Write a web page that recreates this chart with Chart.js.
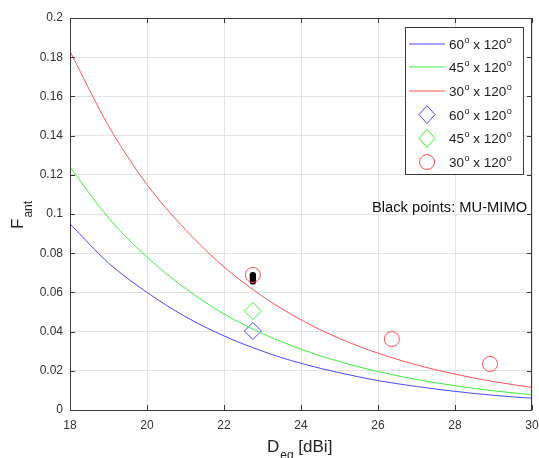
<!DOCTYPE html>
<html>
<head>
<meta charset="utf-8">
<script src="https://cdn.jsdelivr.net/npm/chart.js@4"></script>
<style>
  html, body { margin: 0; padding: 0; background: #fff; }
  #wrap { width: 539px; height: 458px; position: relative; }
</style>
</head>
<body>
<div id="wrap"><canvas id="c" width="539" height="458"></canvas></div>
<script>
// ---- data ----
const deq = [18, 19, 20, 21, 22, 23, 24, 25, 26, 27, 28, 29, 30];
const f60 = [0.095, 0.075, 0.060, 0.0476, 0.0378, 0.030, 0.0238, 0.019, 0.015, 0.012, 0.0095, 0.0075, 0.006];
const f45 = [0.124, 0.098, 0.078, 0.062, 0.049, 0.039, 0.031, 0.0247, 0.0196, 0.0156, 0.0124, 0.0098, 0.0078];
const f30 = [0.183, 0.145, 0.115, 0.092, 0.073, 0.058, 0.046, 0.0365, 0.029, 0.023, 0.0183, 0.0145, 0.0115];

const m60x = [22.75], m60y = [0.0403];
const m45x = [22.75], m45y = [0.0505];
const m30x = [22.75, 26.36, 28.91], m30y = [0.0689, 0.0362, 0.0235];
const muX = [22.75, 22.75, 22.75], muY = [0.0688, 0.0672, 0.0656];

const xTicks = ['18', '20', '22', '24', '26', '28', '30'];
const yTicks = ['0', '0.02', '0.04', '0.06', '0.08', '0.1', '0.12', '0.14', '0.16', '0.18', '0.2'];
const legendLabels = [['60', '120'], ['45', '120'], ['30', '120'], ['60', '120'], ['45', '120'], ['30', '120']];

const BLUE = '#4a4aff', GREEN = '#3cee3c', RED = '#ff5050';
const FONT = '"Liberation Sans", Arial, Helvetica, sans-serif';
const AXIS = '#3a3a3a';

const pts = (xs, ys) => xs.map((x, i) => ({ x: x, y: ys[i] }));

const lineDs = (label, ys, color) => ({
  type: 'line', label, data: pts(deq, ys), borderColor: color, borderWidth: 1,
  pointRadius: 0, fill: false, tension: 0.4, cubicInterpolationMode: 'monotone'
});
const markDs = (label, xs, ys, color, style, r) => ({
  type: 'scatter', label, data: pts(xs, ys), borderColor: color, backgroundColor: 'rgba(0,0,0,0)',
  pointStyle: style, pointRadius: r, pointHoverRadius: r, borderWidth: 1, showLine: false
});

function drawMarker(ctx, style, x, y, color) {
  ctx.save();
  ctx.strokeStyle = color; ctx.lineWidth = 1;
  ctx.beginPath();
  if (style === 'diamond') {
    ctx.moveTo(x, y - 9); ctx.lineTo(x + 8, y); ctx.lineTo(x, y + 9); ctx.lineTo(x - 8, y); ctx.closePath();
  } else {
    ctx.arc(x, y, 7.5, 0, Math.PI * 2);
  }
  ctx.stroke();
  ctx.restore();
}

function drawDegText(ctx, x, y, a, b) {
  ctx.textBaseline = 'alphabetic'; ctx.textAlign = 'left';
  ctx.fillStyle = '#222';
  ctx.font = '13.5px ' + FONT;
  ctx.fillText(a, x, y); x += ctx.measureText(a).width;
  ctx.font = '9px ' + FONT;
  ctx.fillText('o', x + 0.5, y - 6); x += ctx.measureText('o').width + 0.5;
  ctx.font = '13.5px ' + FONT;
  const mid = ' x ' + b;
  ctx.fillText(mid, x, y); x += ctx.measureText(mid).width;
  ctx.font = '9px ' + FONT;
  ctx.fillText('o', x + 0.5, y - 6);
}

const decor = {
  id: 'decor',
  afterDraw(chart) {
    const ctx = chart.ctx, a = chart.chartArea;
    const xs = chart.scales.x, ys = chart.scales.y;
    ctx.save();
    // frame
    ctx.strokeStyle = AXIS; ctx.lineWidth = 1;
    ctx.beginPath();
    ctx.moveTo(Math.round(a.left) + 0.5, Math.round(a.top) + 0.5);
    ctx.lineTo(Math.round(a.right) - 0.5, Math.round(a.top) + 0.5);
    ctx.lineTo(Math.round(a.right) - 0.5, Math.round(a.bottom) + 0.5);
    ctx.lineTo(Math.round(a.left) + 0.5, Math.round(a.bottom) + 0.5);
    ctx.closePath();
    ctx.stroke();
    // inward ticks
    ctx.beginPath();
    xs.ticks.forEach(t => {
      const px = Math.round(xs.getPixelForValue(t.value)) + 0.5;
      ctx.moveTo(px, a.bottom); ctx.lineTo(px, a.bottom - 5);
      ctx.moveTo(px, a.top); ctx.lineTo(px, a.top + 5);
    });
    ys.ticks.forEach(t => {
      const py = Math.round(ys.getPixelForValue(t.value)) + 0.5;
      ctx.moveTo(a.left, py); ctx.lineTo(a.left + 5, py);
      ctx.moveTo(a.right, py); ctx.lineTo(a.right - 5, py);
    });
    ctx.stroke();

    // annotation
    ctx.fillStyle = '#111';
    ctx.font = '14.7px ' + FONT;
    ctx.textAlign = 'left'; ctx.textBaseline = 'alphabetic';
    ctx.fillText('Black points: MU-MIMO', 372, 212);

    // x axis title
    ctx.fillStyle = '#222';
    ctx.font = '17px ' + FONT;
    let x = 267;
    ctx.fillText('D', x, 452); x += ctx.measureText('D').width;
    ctx.font = '12px ' + FONT;
    ctx.fillText('eq', x + 1, 459); x += ctx.measureText('eq').width + 1;
    ctx.font = '17px ' + FONT;
    ctx.fillText(' [dBi]', x, 452);

    // y axis title
    ctx.save();
    ctx.translate(23, 229);
    ctx.rotate(-Math.PI / 2);
    ctx.font = '17px ' + FONT;
    ctx.fillText('F', 0, 0);
    let w = ctx.measureText('F').width;
    ctx.font = '12px ' + FONT;
    ctx.fillText('ant', w + 1, 9);
    ctx.restore();

    // legend
    const L = 405.5, T = 27.5, R = 523.5, B = 174.5;
    ctx.fillStyle = '#fff';
    ctx.fillRect(L, T, R - L, B - T);
    ctx.strokeStyle = '#3a3a3a'; ctx.lineWidth = 1;
    ctx.strokeRect(L, T, R - L, B - T);
    const colors = [BLUE, GREEN, RED, BLUE, GREEN, RED];
    for (let i = 0; i < 6; i++) {
      const cy = 43.5 + i * 23.7;
      if (i < 3) {
        ctx.save();
        ctx.strokeStyle = colors[i]; ctx.lineWidth = 1.2;
        ctx.beginPath(); ctx.moveTo(409, Math.round(cy)); ctx.lineTo(445, Math.round(cy)); ctx.stroke();
        ctx.restore();
      } else {
        drawMarker(ctx, i === 5 ? 'circle' : 'diamond', 427, cy, colors[i]);
      }
      drawDegText(ctx, 449, cy + 5, legendLabels[i][0], legendLabels[i][1]);
    }
    ctx.restore();
  }
};

new Chart(document.getElementById('c'), {
  data: {
    datasets: [
      lineDs('60° x 120°', f60, BLUE),
      lineDs('45° x 120°', f45, GREEN),
      lineDs('30° x 120°', f30, RED),
      markDs('60° x 120° points', m60x, m60y, BLUE, 'rectRot', 8.5),
      markDs('45° x 120° points', m45x, m45y, GREEN, 'rectRot', 8.5),
      markDs('30° x 120° points', m30x, m30y, RED, 'circle', 7.5),
      {
        type: 'scatter', label: 'MU-MIMO', data: pts(muX, muY), borderColor: '#000', backgroundColor: '#000',
        pointStyle: 'circle', pointRadius: 3.2, pointHoverRadius: 3.2, borderWidth: 0, showLine: false
      }
    ]
  },
  options: {
    responsive: false,
    animation: false,
    events: [],
    layout: { autoPadding: false, padding: { top: 18, right: 7, left: 0, bottom: 0 } },
    plugins: { legend: { display: false }, tooltip: { enabled: false }, title: { display: false } },
    scales: {
      x: {
        type: 'linear', min: 18, max: 30,
        afterFit: s => { s.height = 48; s.paddingLeft = 0; s.paddingRight = 0; },
        afterBuildTicks: s => { s.ticks = xTicks.map(v => ({ value: parseFloat(v) })); },
        ticks: {
          padding: 8, color: '#333', font: { family: FONT, size: 12 }, maxRotation: 0,
          callback: (v) => { const i = xTicks.findIndex(t => parseFloat(t) === v); return i >= 0 ? xTicks[i] : ''; }
        },
        grid: { color: '#e4e4e4', drawTicks: false },
        border: { display: false }
      },
      y: {
        type: 'linear', min: 0, max: 0.2,
        afterFit: s => { s.width = 70; s.paddingTop = 0; s.paddingBottom = 0; },
        afterBuildTicks: s => { s.ticks = yTicks.map(v => ({ value: parseFloat(v) })); },
        ticks: {
          padding: 7, color: '#333', font: { family: FONT, size: 12 },
          callback: (v) => { const i = yTicks.findIndex(t => Math.abs(parseFloat(t) - v) < 1e-9); return i >= 0 ? yTicks[i] : ''; }
        },
        grid: { color: '#e4e4e4', drawTicks: false },
        border: { display: false }
      }
    }
  },
  plugins: [decor]
});
</script>
</body>
</html>
